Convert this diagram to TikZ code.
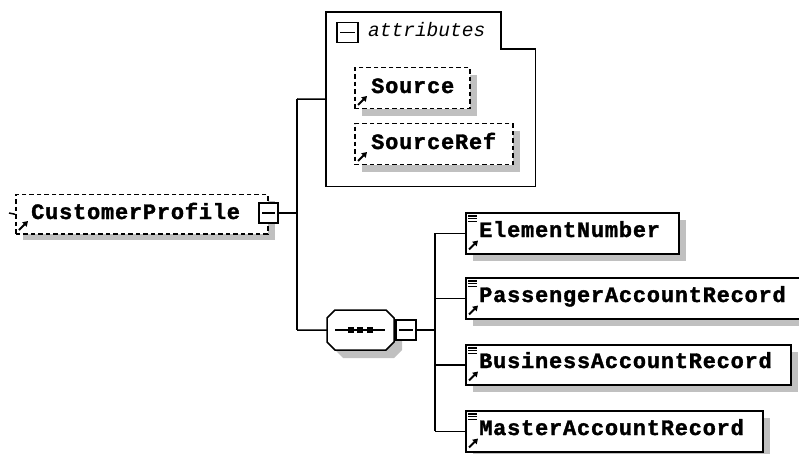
\documentclass[tikz,border=0pt]{standalone}
\usepackage{fontspec}
\newfontfamily\lblfont[LetterSpace=3.5,FakeBold=1.5]{Liberation Mono Bold}
\newfontfamily\attrfont{Liberation Mono}
\usetikzlibrary{arrows.meta}
\definecolor{shadowgrey}{RGB}{192,192,192}
\begin{document}
\begin{tikzpicture}[x=1pt,y=-1pt,
  line cap=butt,
  conn/.style={draw=black, line width=1.5pt},
  solidbox/.style={draw=black, line width=1.5pt, fill=white, rectangle, inner sep=0pt, anchor=north west},
  dashbox/.style={solidbox, dash pattern=on 4.5pt off 3pt},
  ghost/.style={rectangle, inner sep=0pt, anchor=north west, draw=none},
  lbl/.style={font=\lblfont\fontsize{22}{22}\selectfont, inner sep=0pt, anchor=base west},
  minusbox/.style={draw=black, line width=1.5pt, fill=white, rectangle, inner sep=0pt, minimum width=19pt, minimum height=20pt},
  refarrow/.style={line width=2pt, -{Triangle[length=5pt,width=6pt]}},
]
\useasboundingbox (0,0) rectangle (799,454);
\begin{scope}
\clip (0,0) rectangle (799,454);

% ---------- CustomerProfile ----------
\fill[shadowgrey] (23,201) rectangle (275,240);
\node[dashbox, minimum width=252pt, minimum height=39pt] (cp) at (15,194) {};
\draw[line width=1.5pt] (9,213) -- (cp.west);
\node[lbl] (cpt) at (31,219) {CustomerProfile};
\draw[refarrow] (19,230) -- (28,221);
\node[minusbox, anchor=west] (cpm) at (258,213) {};
\draw[line width=1.5pt] ([xshift=4pt]cpm.west) -- ([xshift=-4pt]cpm.east);

% junctions
\coordinate (jtop) at (297,99);
\coordinate (jbot) at (297,330);
\draw[conn] (cpm.east) -- (cpm.east -| jtop);
\draw[conn] (jtop) -- (jbot);

% ---------- attributes group ----------
\node[ghost, minimum width=209pt, minimum height=174pt] (attr) at (326,12) {};
\draw[line width=1.5pt, fill=white] (attr.north west) -- (501,12) -- (501,49) -- (attr.north east |- 0,49) -- (attr.south east) -- (attr.south west) -- cycle;
\draw[conn] (jtop) -- (attr.west);
\node[minusbox, anchor=north west, minimum width=21pt] (am) at (336,22) {};
\draw[line width=1.5pt] ([xshift=4pt]am.west) -- ([xshift=-4pt]am.east);
\node[inner sep=0pt, anchor=base west, font=\attrfont\itshape\fontsize{19.5}{19.5}\selectfont] (attrt) at (368,37) {attributes};

% Source
\fill[shadowgrey] (362,75) rectangle (477,116);
\node[dashbox, minimum width=115pt, minimum height=41pt] (src) at (354,67) {};
\node[lbl] (srct) at (371,93) {Source};
\draw[refarrow] (358,105) -- (367,96);

% SourceRef
\fill[shadowgrey] (362,131) rectangle (520,172);
\node[dashbox, minimum width=158pt, minimum height=41pt] (srcref) at (354,123) {};
\node[lbl] (srcreft) at (371,149) {SourceRef};
\draw[refarrow] (358,161) -- (367,152);

% ---------- sequence compositor ----------
\fill[shadowgrey] (343,318) -- (394,318) -- (402,326) -- (402,350) -- (394,358) -- (343,358) -- (335,350) -- (335,326) -- cycle;
\node[ghost, minimum width=67pt, minimum height=40pt] (seq) at (327,310) {};
\draw[line width=1.5pt, fill=white] (335,310) -- (386,310) -- (394,318) -- (394,342) -- (386,350) -- (335,350) -- (327,342) -- (327,318) -- cycle;
\draw[line width=1.5pt] (335,330) -- (385,330);
\foreach \dx in {351,360,370} \fill (\dx-3,327) rectangle (\dx+3,333);
\draw[conn] (jbot) -- (seq.west);
\node[minusbox, anchor=west, minimum width=20pt] (seqm) at (395,330) {};
\draw[line width=1.5pt] ([xshift=4pt]seqm.west) -- ([xshift=-4pt]seqm.east);
\coordinate (jx) at (435,330);
\draw[conn] (seqm.east) -- (jx);

% ---------- child elements ----------
% ElementNumber
\fill[shadowgrey] (473,220) rectangle (686,261);
\node[solidbox, minimum width=213pt, minimum height=41pt] (en) at (465,212) {};
\node[lbl] (ent) at (479,237) {ElementNumber};
% PassengerAccountRecord
\fill[shadowgrey] (473,285) rectangle (813,326);
\node[solidbox, minimum width=340pt, minimum height=41pt] (par) at (465,277) {};
\node[lbl] (part) at (479,302) {PassengerAccountRecord};
% BusinessAccountRecord
\fill[shadowgrey] (473,352) rectangle (798,392);
\node[solidbox, minimum width=325pt, minimum height=40pt] (bar) at (465,344) {};
\node[lbl] (bart) at (479,368) {BusinessAccountRecord};
% MasterAccountRecord
\fill[shadowgrey] (473,418) rectangle (770,459);
\node[solidbox, minimum width=297pt, minimum height=41pt] (mar) at (465,410) {};
\node[lbl] (mart) at (479,435) {MasterAccountRecord};

\foreach \n in {en,par,bar,mar}{
  \draw[conn] (\n.west -| jx) -- (\n.west);
  \draw[line width=1.1pt] ([shift={(3pt,-4pt)}]\n.north west) -- ++(9,0)
                        ([shift={(3pt,-6.8pt)}]\n.north west) -- ++(9,0)
                        ([shift={(3pt,-9.6pt)}]\n.north west) -- ++(9,0);
  \draw[refarrow] ([shift={(4pt,5pt)}]\n.south west) -- ++(9,-9);
}
\draw[conn] (en.west -| jx) -- (mar.west -| jx);
\end{scope}
\end{tikzpicture}
\end{document}
